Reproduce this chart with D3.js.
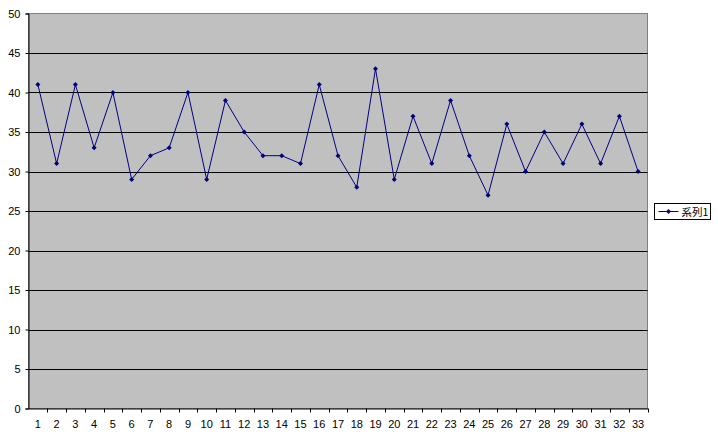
<!DOCTYPE html>
<html><head><meta charset="utf-8">
<script src="https://cdn.jsdelivr.net/npm/d3@7"></script>
<style>body{margin:0;background:#fff}svg{display:block}text{font-family:"Noto Sans CJK JP","DejaVu Sans",sans-serif;font-size:11px;fill:#000}</style>
</head><body>
<svg id="c" width="718" height="436"></svg>
<script>
const categories = d3.range(1, 34).map(String);
const seriesName = "系列1";
const values = [41,31,41,33,40,29,32,33,40,29,39,35,32,32,31,41,32,28,43,29,37,31,39,32,27,36,30,35,31,36,31,37,30];
const yTicks = [0,5,10,15,20,25,30,35,40,45,50];

const svg = d3.select("#c");
const L = 28.5, R = 647.5, T = 13.5, B = 408.5;
const x = d3.scaleBand().domain(categories).range([L, R]);
const y = d3.scaleLinear().domain([0, 50]).range([B, T]);

svg.append("rect").attr("x", L).attr("y", T).attr("width", R - L).attr("height", B - T)
  .attr("fill", "#c0c0c0").attr("stroke", "#808080").attr("stroke-width", 1);

svg.append("g").selectAll("line").data(yTicks.filter(d => d > 0 && d < 50)).join("line")
  .attr("x1", L).attr("x2", R).attr("y1", d => Math.round(y(d)) + 0.5).attr("y2", d => Math.round(y(d)) + 0.5)
  .attr("stroke", "#000").attr("stroke-width", 1);

// y axis
const ya = svg.append("g").attr("transform", `translate(${L},0)`)
  .call(d3.axisLeft(y).tickValues(yTicks).tickSize(3).tickPadding(5));
ya.select(".domain").attr("stroke", "#000");
ya.selectAll("text").style("font-family", "Arial, Liberation Sans, sans-serif").style("font-size", "11px");

// x axis
const xa = svg.append("g").attr("transform", `translate(0,${B})`)
  .call(d3.axisBottom(x).tickSize(0).tickPadding(12));
xa.select(".domain").attr("stroke", "#000");
xa.selectAll("text").style("font-family", "Arial, Liberation Sans, sans-serif").style("font-size", "11px");
xa.append("g").selectAll("line").data(categories).join("line")
  .attr("x1", (d, i) => Math.round(x(categories[i]) + x.bandwidth()) + 0.5)
  .attr("x2", (d, i) => Math.round(x(categories[i]) + x.bandwidth()) + 0.5)
  .attr("y1", 0).attr("y2", 4).attr("stroke", "#000");

const cx = (d, i) => x(categories[i]) + x.bandwidth() / 2;
svg.append("path").datum(values)
  .attr("d", d3.line().x(cx).y(d => y(d)))
  .attr("fill", "none").attr("stroke", "#000080").attr("stroke-width", 1);

const diamond = "M0,-2.5L2.5,0L0,2.5L-2.5,0Z";
svg.append("g").selectAll("path").data(values).join("path")
  .attr("transform", (d, i) => `translate(${cx(d, i)},${y(d)})`)
  .attr("d", diamond).attr("fill", "#000080");

// legend
const lg = svg.append("g").attr("transform", "translate(654.5,203.5)");
lg.append("rect").attr("width", 56).attr("height", 16).attr("fill", "#fff").attr("stroke", "#000");
lg.append("line").attr("x1", 4).attr("x2", 24).attr("y1", 8).attr("y2", 8).attr("stroke", "#000080");
lg.append("path").attr("transform", "translate(14,8)").attr("d", diamond).attr("fill", "#000080");
lg.append("text").attr("x", 27).attr("y", 12).style("font-size", "10.5px").text(seriesName);
</script>
</body></html>
